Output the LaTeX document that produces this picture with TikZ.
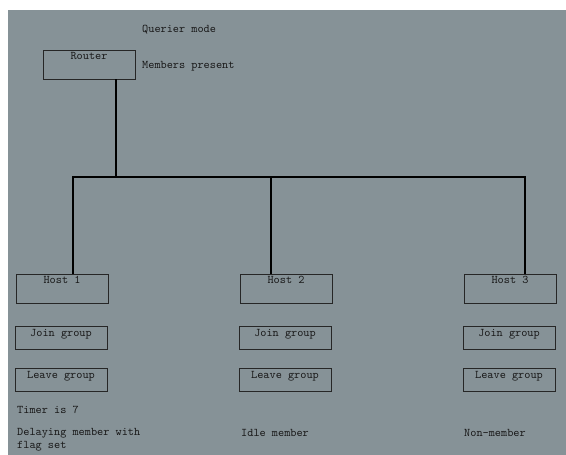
\documentclass[tikz,border=0pt]{standalone}
\usetikzlibrary{positioning}
\definecolor{panel}{RGB}{134,146,151}

\begin{document}
\begin{tikzpicture}[x=0.03cm, y=-0.03cm,
  font=\ttfamily\fontsize{10}{11}\selectfont,
  box/.style={draw=black!85, line width=0.8pt, minimum width=2.76cm, minimum height=#1, inner sep=0pt},
  caption/.style={anchor=north, inner sep=2.2pt, text=black!90},
  note/.style={anchor=west, inner sep=0pt, align=left, text=black!90},
  bus/.style={line width=2.2pt}]
  \useasboundingbox (0,0) rectangle (566,455);
  \fill[white] (0,0) rectangle (566,455);
  \fill[panel] (8,10) rectangle (566,455);

  % router and its notes
  \node[box=0.87cm, label={[caption]north:Router}] (router) at (89,64.5) {};
  \node[note] (querier) at (142,30) {Querier mode};
  \node[note] (present) at (142,66) {Members present};

  % hosts
  \node[box=0.87cm, label={[caption]north:Host 1}] (host1) at (62,288.5) {};
  \node[box=0.87cm, label={[caption]north:Host 2}] (host2) at (286,288.5) {};
  \node[box=0.87cm, label={[caption]north:Host 3}] (host3) at (510,288.5) {};

  \node[box=0.69cm, label={[caption]north:Join group}, below=0.69cm of host1, xshift=-0.03cm] (join1) {};
  \node[box=0.69cm, label={[caption]north:Join group}, below=0.69cm of host2, xshift=-0.03cm] (join2) {};
  \node[box=0.69cm, label={[caption]north:Join group}, below=0.69cm of host3, xshift=-0.03cm] (join3) {};

  \node[box=0.69cm, label={[caption]north:Leave group}, below=0.54cm of join1] (leave1) {};
  \node[box=0.69cm, label={[caption]north:Leave group}, below=0.54cm of join2] (leave2) {};
  \node[box=0.69cm, label={[caption]north:Leave group}, below=0.54cm of join3] (leave3) {};

  % states
  \node[note] (timer) at (17,410) {Timer is 7};
  \node[note, anchor=north west] (delay) at (17,428) {Delaying member with\\flag set};
  \node[note] (idle) at (241,433) {Idle member};
  \node[note] (nonmember) at (464,433) {Non-member};

  % bus
  \coordinate (tap) at (116,177);
  \coordinate (j1) at (73,177);
  \coordinate (j2) at (271,177);
  \coordinate (j3) at (525,177);
  \draw[bus] (tap |- router.south) -- (tap);
  \draw[bus, line cap=rect] (j1) -- (j3);
  \draw[bus] (j1) -- (j1 |- host1.north);
  \draw[bus] (j2) -- (j2 |- host2.north);
  \draw[bus] (j3) -- (j3 |- host3.north);
\end{tikzpicture}
\end{document}
